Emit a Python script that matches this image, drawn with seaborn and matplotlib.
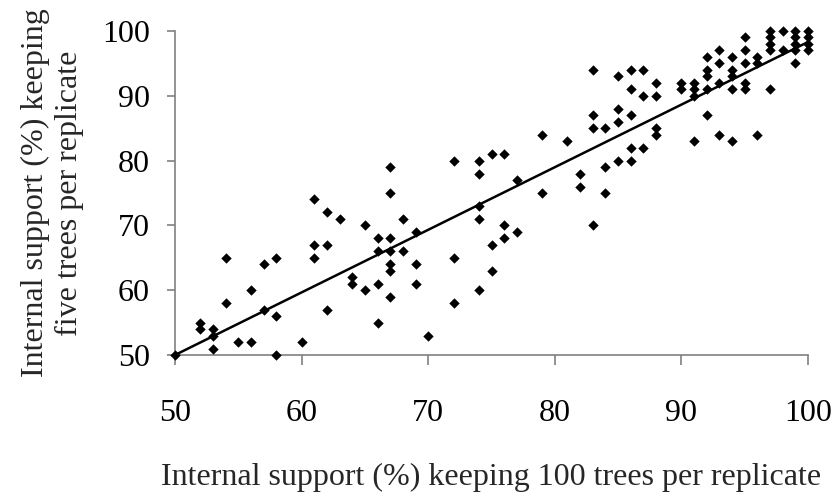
import matplotlib
matplotlib.use("Agg")
import matplotlib.pyplot as plt
import seaborn as sns
import pandas as pd

support_100 = [50, 52, 52, 53, 53, 53, 54, 54, 55, 56, 56, 57, 57, 58, 58, 58, 60,
               61, 61, 61, 62, 62, 62, 63, 64, 64, 65, 65, 66, 66, 66, 66,
               67, 67, 67, 67, 67, 67, 67, 68, 68, 69, 69, 69, 70, 72, 72, 72,
               74, 74, 74, 74, 74, 75, 75, 75, 76, 76, 76, 77, 77, 79, 79, 81,
               82, 82, 83, 83, 83, 83, 84, 84, 84, 85, 85, 85, 85,
               86, 86, 86, 86, 86, 87, 87, 87, 88, 88, 88, 88, 90, 90,
               91, 91, 91, 91, 92, 92, 92, 92, 92, 93, 93, 93, 93,
               94, 94, 94, 94, 94, 95, 95, 95, 95, 95, 96, 96, 96,
               97, 97, 97, 97, 97, 98, 98, 99, 99, 99, 99, 99, 100, 100, 100, 100]
support_5 = [50, 55, 54, 54, 53, 51, 65, 58, 52, 52, 60, 64, 57, 65, 56, 50, 52,
             74, 67, 65, 72, 67, 57, 71, 62, 61, 70, 60, 68, 66, 61, 55,
             79, 75, 68, 66, 64, 63, 59, 71, 66, 69, 64, 61, 53, 80, 65, 58,
             80, 78, 73, 71, 60, 81, 67, 63, 81, 70, 68, 77, 69, 84, 75, 83,
             78, 76, 94, 87, 85, 70, 85, 79, 75, 93, 88, 86, 80,
             94, 91, 87, 82, 80, 94, 90, 82, 92, 90, 85, 84, 92, 91,
             92, 91, 90, 83, 96, 94, 93, 91, 87, 97, 95, 92, 84,
             96, 94, 93, 91, 83, 99, 97, 95, 92, 91, 96, 95, 84,
             100, 99, 98, 97, 91, 100, 97, 100, 99, 98, 97, 95, 100, 99, 98, 97]

trend_x = [50, 100]
trend_y = [50, 98.3]

x_ticks = [50, 60, 70, 80, 90, 100]
y_ticks = [50, 60, 70, 80, 90, 100]

df = pd.DataFrame({"x": support_100, "y": support_5})
trend = pd.DataFrame({"x": trend_x, "y": trend_y})

sns.set_theme(style="white")
plt.rcParams["font.family"] = ["Liberation Serif", "DejaVu Serif"]

fig = plt.figure(figsize=(8.34, 4.94), dpi=100)
ax = fig.add_axes([175 / 834, 1 - 355 / 494, (808 - 175) / 834, (355 - 31) / 494])

sns.lineplot(data=trend, x="x", y="y", ax=ax, color="black", linewidth=1.8, zorder=2)
sns.scatterplot(data=df, x="x", y="y", ax=ax, marker="D", color="black", s=28,
                linewidth=0, zorder=3, clip_on=False)

ax.set_xlim(50, 100)
ax.set_ylim(50, 100)
ax.set_xticks(x_ticks)
ax.set_yticks(y_ticks)
ax.set_xticklabels([str(t) for t in x_ticks])
ax.set_yticklabels([str(t) for t in y_ticks])

for side in ["top", "right"]:
    ax.spines[side].set_visible(False)
for side in ["left", "bottom"]:
    ax.spines[side].set_color("#808080")
    ax.spines[side].set_linewidth(1.2)

ax.tick_params(axis="x", direction="out", length=7, width=1.2, color="#808080",
               pad=25, labelsize=23, labelcolor="black", bottom=True)
ax.tick_params(axis="y", direction="out", length=6, width=1.2, color="#808080",
               pad=12, labelsize=23, labelcolor="black", left=True)

ax.set_xlabel("Internal support (%) keeping 100 trees per replicate", fontsize=23,
              labelpad=25)
ax.set_ylabel("Internal support (%) keeping\nfive trees per replicate", fontsize=23,
              labelpad=13, linespacing=1.22)

fig.savefig("out.png", dpi=100)
